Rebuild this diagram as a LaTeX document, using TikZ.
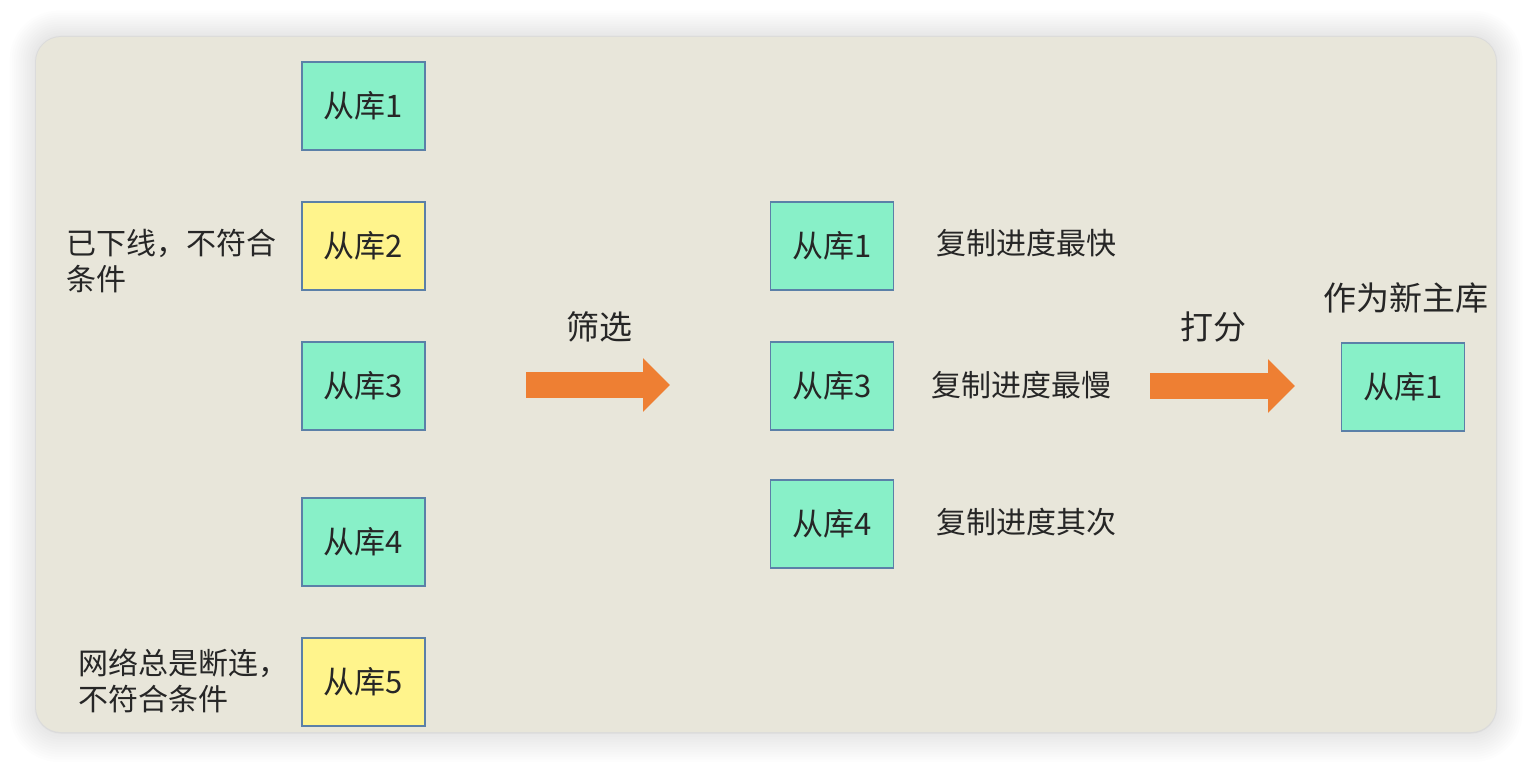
\documentclass[tikz,border=0pt]{standalone}
\usepackage{fontspec}
\setmainfont{Noto Sans CJK SC}
\usepackage{xcolor}
\usepackage{tikz}
\usetikzlibrary{arrows.meta,positioning}
\definecolor{panel}{HTML}{E8E6DA}
\definecolor{mint}{HTML}{88F0C8}
\definecolor{lemon}{HTML}{FFF48C}
\definecolor{edge}{HTML}{5B80A8}
\definecolor{tangerine}{HTML}{EE7F33}
\definecolor{ink}{HTML}{262626}

\begin{document}
\begin{tikzpicture}[x=1pt,y=-1pt,
  slave/.style={rectangle,draw=edge,line width=1.2pt,fill=mint,minimum width=123pt,minimum height=88pt,inner sep=0pt,font=\fontsize{31}{36}\selectfont,text=ink},
  offline/.style={slave,fill=lemon},
  note/.style={font=\fontsize{30}{36}\selectfont,text=ink,inner sep=0pt},
  caption/.style={note,font=\fontsize{33}{38}\selectfont},
  bigarrow/.style={tangerine,line width=26pt,-{Triangle[length=27pt,width=52pt]}}]
\useasboundingbox (0,0) rectangle (1532,768);
\fill[white] (0,0) rectangle (1532,768);
% soft shadow round the panel
\foreach \d in {1,...,12}
  \fill[black,opacity=0.008,rounded corners=25pt+\d*2pt] (36-\d*2.2,37-\d*2.2) rectangle (1496+\d*2.2,732+\d*2.5);
\fill[black!14,rounded corners=26pt] (35,36) rectangle (1497,733.5);
\fill[panel,rounded corners=25pt] (36,37) rectangle (1496,732);
% candidates
\node[slave] (c1) at (363.5,106) {从库1};
\node[offline] (c2) at (363.5,246) {从库2};
\node[slave] (c3) at (363.5,386) {从库3};
\node[slave] (c4) at (363.5,542) {从库4};
\node[offline] (c5) at (363.5,682) {从库5};
\node[note,anchor=west,align=left] (n2) at (66,261) {已下线，不符合\\条件};
\node[note,anchor=west,align=left] (n5) at (78,681) {网络总是断连，\\不符合条件};
% filter
\coordinate (f0) at (526,385);
\coordinate (f1) at (670,385);
\draw[bigarrow] (f0) -- (f1);
\node[caption] (l1) at (599,327) {筛选};
% remaining
\node[slave] (r1) at (832,246) {从库1};
\node[slave] (r3) at (832,386) {从库3};
\node[slave] (r4) at (832,524) {从库4};
\node[note] (p1) at (1026,243) {复制进度最快};
\node[note] (p3) at (1021,385) {复制进度最慢};
\node[note] (p4) at (1026,522) {复制进度其次};
% score
\coordinate (g0) at (1150,386);
\coordinate (g1) at (1295,386);
\draw[bigarrow] (g0) -- (g1);
\node[caption] (l2) at (1213,327) {打分};
\node[slave] (m1) at (1403,387) {从库1};
\node[caption] (t1) at (1406,298) {作为新主库};
\end{tikzpicture}
\end{document}
